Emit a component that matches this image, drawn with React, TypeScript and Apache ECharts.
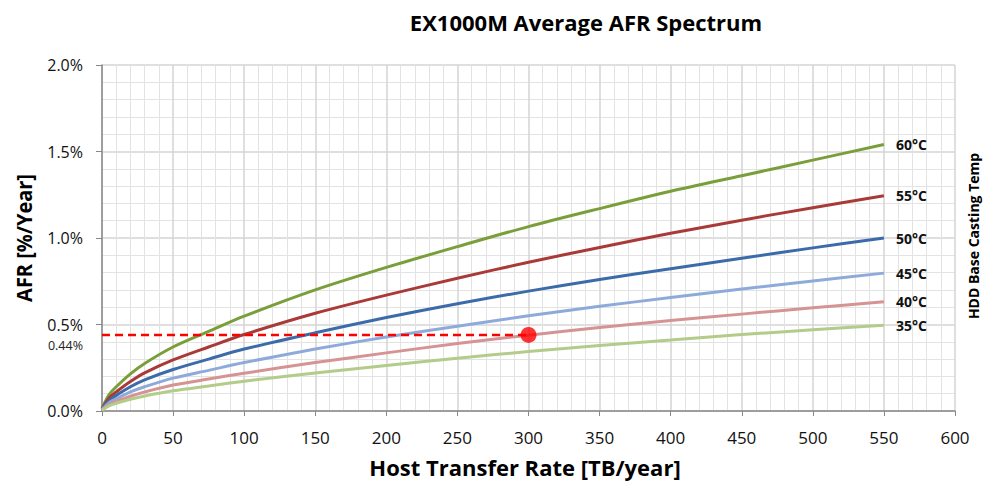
import React, { useEffect, useRef } from "react";
import * as echarts from "echarts";

const xValues = [0, 5, 10, 20, 30, 50, 75, 100, 150, 200, 250, 300, 350, 400, 450, 500, 550];
const afr60 = [0.015, 0.095, 0.14, 0.215, 0.275, 0.37, 0.46, 0.548, 0.70, 0.83, 0.95, 1.066, 1.17, 1.27, 1.36, 1.45, 1.54];
const afr55 = [0.012, 0.075, 0.11, 0.17, 0.22, 0.295, 0.37, 0.442, 0.565, 0.67, 0.767, 0.86, 0.945, 1.027, 1.103, 1.175, 1.244];
const afr50 = [0.01, 0.06, 0.09, 0.14, 0.18, 0.24, 0.30, 0.358, 0.452, 0.54, 0.62, 0.693, 0.76, 0.822, 0.883, 0.943, 1.0];
const afr45 = [0.008, 0.048, 0.07, 0.11, 0.14, 0.19, 0.235, 0.28, 0.358, 0.428, 0.49, 0.55, 0.605, 0.656, 0.705, 0.752, 0.797];
const afr40 = [0.006, 0.038, 0.055, 0.085, 0.11, 0.15, 0.185, 0.218, 0.28, 0.336, 0.39, 0.438, 0.482, 0.523, 0.56, 0.597, 0.631];
const afr35 = [0.005, 0.03, 0.045, 0.068, 0.087, 0.117, 0.145, 0.172, 0.22, 0.263, 0.305, 0.344, 0.378, 0.41, 0.442, 0.469, 0.496];

const seriesNames = ["60°C", "55°C", "50°C", "45°C", "40°C", "35°C"];
const seriesColors = ["#7A9E3A", "#A93A38", "#3C6BAA", "#8EAADB", "#D69393", "#B3CC8A"];
const seriesValues = [afr60, afr55, afr50, afr45, afr40, afr35];

const markerPoint = [300, 0.44];
const markerLabel = "0.44%";

const FONT = "'Open Sans', Lato, sans-serif";

export default function App() {
  const ref = useRef<HTMLDivElement>(null);
  useEffect(() => {
    if (!ref.current) return;
    const chart = echarts.init(ref.current, undefined, { renderer: "svg" });
    const lineSeries = seriesValues.map((vals, i) => ({
      name: seriesNames[i],
      type: "line",
      data: xValues.map((x, j) => [x, vals[j]]),
      smooth: 0.3,
      showSymbol: false,
      symbol: "none",
      lineStyle: { color: seriesColors[i], width: 3 },
      itemStyle: { color: seriesColors[i] },
      z: 3,
      endLabel: {
        show: true,
        formatter: "{a}",
        distance: 12,
        fontFamily: FONT,
        fontWeight: "bold",
        fontSize: 14,
        color: "#111",
      },
    }));
    chart.setOption({
      animation: false,
      backgroundColor: "#fff",
      textStyle: { fontFamily: FONT },
      grid: { left: 102, right: 28, top: 65, bottom: 75, containLabel: false },
      xAxis: {
        type: "value",
        min: 0,
        max: 600,
        interval: 50,
        axisLine: { show: true, lineStyle: { color: "#888", width: 1.5 } },
        axisTick: { show: true, length: 5, inside: false, lineStyle: { color: "#888" } },
        axisLabel: { color: "#111", fontSize: 17, margin: 18, fontFamily: FONT },
        splitLine: { show: true, lineStyle: { color: "#D4D4D4", width: 1.5 } },
        minorTick: { show: false, splitNumber: 5 },
        minorSplitLine: { show: true, lineStyle: { color: "#E3E3E3", width: 1 } },
      },
      yAxis: {
        type: "value",
        min: 0,
        max: 2,
        interval: 0.5,
        axisLine: { show: true, lineStyle: { color: "#888", width: 1.5 } },
        axisTick: { show: true, length: 6, inside: false, lineStyle: { color: "#888" } },
        axisLabel: {
          color: "#111",
          fontSize: 16,
          margin: 19,
          fontFamily: FONT,
          formatter: (v: number) => v.toFixed(1) + "%",
        },
        splitLine: { show: true, lineStyle: { color: "#D4D4D4", width: 1.5 } },
        minorTick: { show: false, splitNumber: 5 },
        minorSplitLine: { show: true, lineStyle: { color: "#E3E3E3", width: 1 } },
      },
      series: [
        ...lineSeries,
        {
          name: "ref",
          type: "line",
          data: [[0, markerPoint[1]], [markerPoint[0], markerPoint[1]]],
          showSymbol: false,
          symbol: "none",
          lineStyle: { color: "#FF0000", width: 2.5, type: [8, 5] },
          z: 4,
        },
        {
          name: "point",
          type: "scatter",
          data: [markerPoint],
          symbolSize: 16,
          itemStyle: { color: "#FF0000" },
          z: 5,
        },
      ],
      graphic: [
        {
          type: "text",
          x: 586,
          y: 22,
          style: {
            text: "EX1000M Average AFR Spectrum",
            fontFamily: FONT,
            fontWeight: "bold",
            fontSize: 22,
            fill: "#000",
            align: "center",
            verticalAlign: "middle",
          },
        },
        {
          type: "text",
          x: 525,
          y: 467,
          style: {
            text: "Host Transfer Rate [TB/year]",
            fontFamily: FONT,
            fontWeight: "bold",
            fontSize: 22,
            fill: "#000",
            align: "center",
            verticalAlign: "middle",
          },
        },
        {
          type: "text",
          x: 24,
          y: 238,
          rotation: Math.PI / 2,
          scaleX: 0.95,
          style: {
            text: "AFR [%/Year]",
            fontFamily: FONT,
            fontWeight: "bold",
            fontSize: 21,
            fill: "#000",
            align: "center",
            verticalAlign: "middle",
          },
        },
        {
          type: "text",
          x: 973,
          y: 236,
          rotation: Math.PI / 2,
          style: {
            text: "HDD Base Casting Temp",
            fontFamily: FONT,
            fontWeight: "bold",
            fontSize: 14,
            fill: "#000",
            align: "center",
            verticalAlign: "middle",
          },
        },
        {
          type: "text",
          x: 83,
          y: 345,
          style: {
            text: markerLabel,
            fontFamily: FONT,
            fontSize: 12.5,
            fill: "#222",
            align: "right",
            verticalAlign: "middle",
          },
        },
      ],
    });
    return () => chart.dispose();
  }, []);
  return <div ref={ref} style={{ width: 983, height: 486, position: "absolute", left: 0, top: 0 }} />;
}
